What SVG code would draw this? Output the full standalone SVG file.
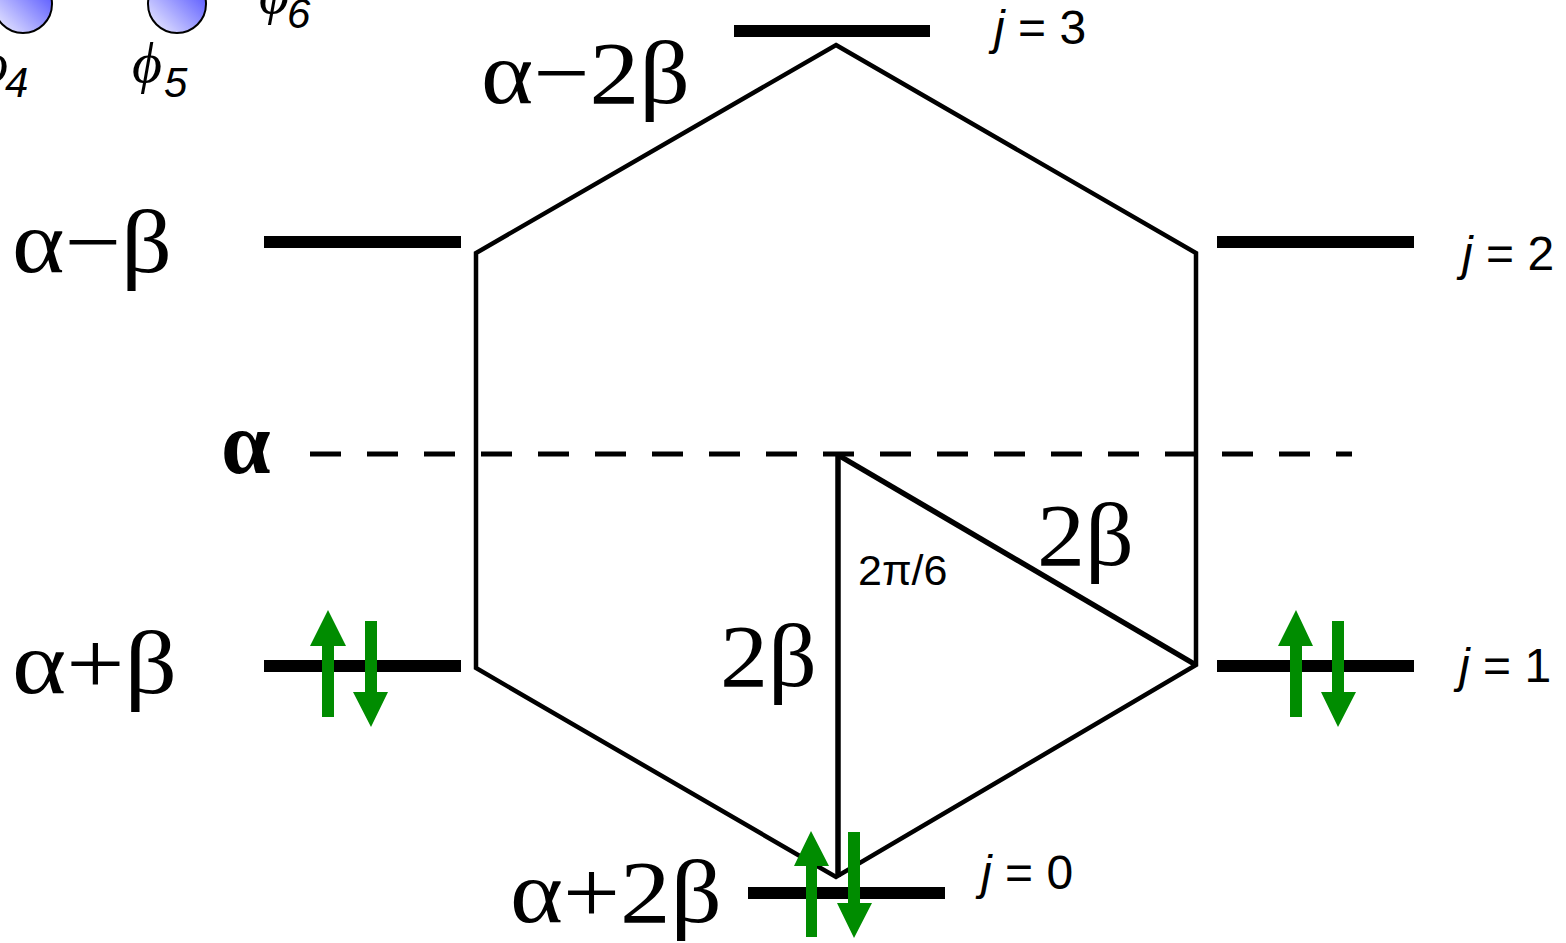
<svg xmlns="http://www.w3.org/2000/svg" width="1566" height="943" viewBox="0 0 1566 943">
<defs>
<linearGradient id="orb" x1="0" y1="1" x2="1" y2="0">
<stop offset="0" stop-color="#f4f4ff"/>
<stop offset="1" stop-color="#3c3cff"/>
</linearGradient>
<style>
.lvl{stroke:#000;stroke-width:12;fill:none}
.hex{stroke:#000;stroke-width:4.5;fill:none;stroke-linejoin:miter}
.tri{stroke:#000;stroke-width:5.5;fill:none}
.dash{stroke:#000;stroke-width:5;stroke-dasharray:31 26;fill:none}
.en{font-family:"Liberation Serif","DejaVu Serif",serif;font-size:89px;fill:#000}
.jl{font-family:"Liberation Sans",Arial,sans-serif;font-size:48px;fill:#000}
.ang{font-family:"Liberation Sans",Arial,sans-serif;font-size:43px;fill:#000}
.phi{font-family:"Liberation Serif","DejaVu Serif",serif;font-style:italic;font-size:58px;fill:#000}
.sub{font-family:"Liberation Sans",Arial,sans-serif;font-style:italic;font-size:42px;fill:#000}
.e{fill:#008c00}
.orb{fill:url(#orb);stroke:#000;stroke-width:2}
</style>
</defs>
<rect width="1566" height="943" fill="#fff"/>

<g id="orbitals">
<circle class="orb" cx="23" cy="4" r="29"/>
<circle class="orb" cx="177" cy="4" r="29"/>
<text class="phi" x="-22" y="82">ϕ</text><text class="sub" x="5" y="97">4</text>
<text class="phi" x="132" y="82">ϕ</text><text class="sub" x="164" y="97">5</text>
<text class="phi" x="259" y="13">ϕ</text><text class="sub" x="287" y="28">6</text>
</g>

<g id="connectors">
<path class="hex" d="M836,45 L1196,253 L1196,665 L836,877 L476,668 L476,253 Z"/>
<line class="tri" x1="838" y1="455" x2="838" y2="877"/>
<line class="tri" x1="838" y1="455" x2="1196" y2="665"/>
<line class="dash" x1="310" y1="454" x2="1352" y2="454"/>
</g>

<g id="level-j3">
<line class="lvl" x1="734" y1="31" x2="930" y2="31"/>
<text class="en" x="481" y="103" textLength="209" lengthAdjust="spacingAndGlyphs">α−2β</text>
<text class="jl" x="994" y="44"><tspan font-style="italic">j</tspan> = 3</text>
</g>

<g id="level-j2">
<line class="lvl" x1="264" y1="242" x2="461" y2="242"/>
<line class="lvl" x1="1217" y1="242" x2="1414" y2="242"/>
<text class="en" x="12" y="272" textLength="160" lengthAdjust="spacingAndGlyphs">α−β</text>
<text class="jl" x="1462" y="270"><tspan font-style="italic">j</tspan> = 2</text>
</g>

<g id="level-alpha">
<text class="en" x="221" y="473" font-weight="bold" font-size="74px">α</text>
</g>

<g id="level-j1">
<line class="lvl" x1="264" y1="666" x2="461" y2="666"/>
<line class="lvl" x1="1217" y1="666" x2="1414" y2="666"/>
<text class="en" x="12" y="693" textLength="165" lengthAdjust="spacingAndGlyphs">α+β</text>
<text class="jl" x="1459" y="682"><tspan font-style="italic">j</tspan> = 1</text>
<polygon class="e" points="322,717 334,717 334,646 346,646 328,610 310,646 322,646"/>
<polygon class="e" points="365,621 377,621 377,692 388,692 371,727 353,692 365,692"/>
<polygon class="e" points="1290,717 1302,717 1302,646 1313,646 1296,610 1278,646 1290,646"/>
<polygon class="e" points="1332,621 1344,621 1344,692 1356,692 1338,727 1321,692 1332,692"/>
</g>

<g id="level-j0">
<line class="lvl" x1="748" y1="893" x2="945" y2="893"/>
<text class="en" x="510" y="922" textLength="212" lengthAdjust="spacingAndGlyphs">α+2β</text>
<text class="jl" x="981" y="889"><tspan font-style="italic">j</tspan> = 0</text>
<polygon class="e" points="806,937 817,937 817,866 829,866 811,831 794,866 806,866"/>
<polygon class="e" points="848,832 860,832 860,903 872,903 854,938 837,903 848,903"/>
</g>

<g id="labels">
<text class="en" x="720" y="686" textLength="97" lengthAdjust="spacingAndGlyphs">2β</text>
<text class="en" x="1037" y="565" textLength="97" lengthAdjust="spacingAndGlyphs">2β</text>
<text class="ang" x="858" y="585">2π/6</text>
</g>
</svg>
